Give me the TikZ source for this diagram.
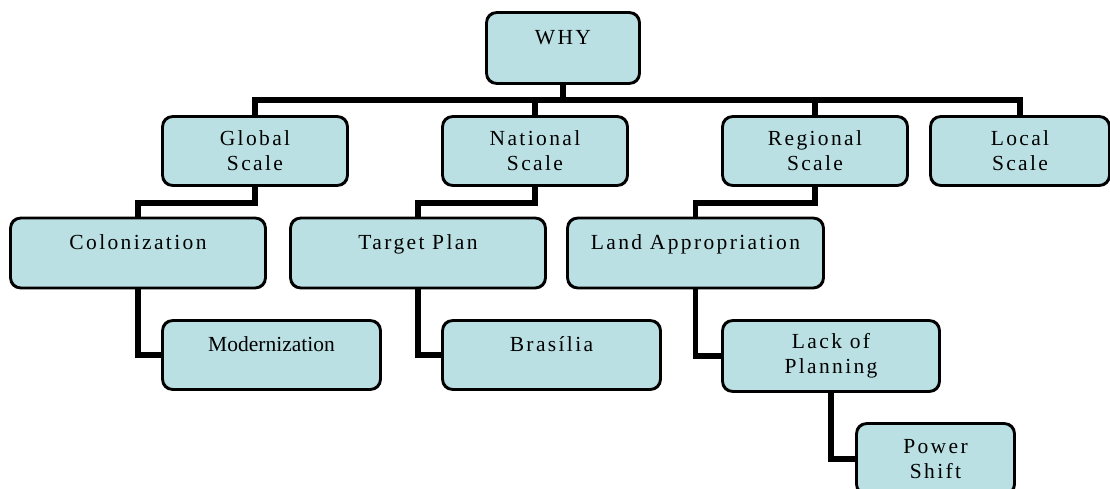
\documentclass[tikz,border=0pt]{standalone}
\usepackage{fontspec}
\setmainfont{Liberation Serif}
\newfontfamily\spfont[LetterSpace=11]{Liberation Serif}
\definecolor{boxfill}{RGB}{186,224,227}
\begin{document}
\begin{tikzpicture}[x=1pt,y=-1pt,
  box/.style={draw=black, line width=1.8pt, fill=boxfill, rounded corners=10pt,
    align=center, inner sep=0pt, font=\spfont\fontsize{21.5}{25}\selectfont},
  link/.style={draw=black, line width=5.5pt, line join=miter}]
\clip (0,0) rectangle (1110,489);
\fill[white] (0,0) rectangle (1110,489);
% nodes
\node[box, minimum width=152pt, minimum height=70pt] (why) at (563,48) {WHY\\[-4pt]\mbox{}};
\node[box, minimum width=184pt, minimum height=68pt] (global) at (255,151) {Global\\Scale};
\node[box, minimum width=184pt, minimum height=68pt] (national) at (535,151) {National\\Scale};
\node[box, minimum width=184pt, minimum height=68pt] (regional) at (815,151) {Regional\\Scale};
\node[box, minimum width=178pt, minimum height=68pt] (local) at (1020,151) {Local\\Scale};
\node[box, minimum width=254pt, minimum height=69pt] (colon) at (138,253) {Colonization\\[-4pt]\mbox{}};
\node[box, minimum width=254pt, minimum height=69pt] (target) at (418,253) {Target Plan\\[-4pt]\mbox{}};
\node[box, minimum width=255pt, minimum height=69pt] (land) at (695.5,253) {Land Appropriation\\[-4pt]\mbox{}};
\node[box, minimum width=217pt, minimum height=68pt, font=\rmfamily\fontsize{21.5}{25}\selectfont] (modern) at (271.5,355) {Modernization\\[-4pt]\mbox{}};
\node[box, minimum width=217pt, minimum height=68pt] (brasilia) at (551.5,355) {Brasília\\[-4pt]\mbox{}};
\node[box, minimum width=216pt, minimum height=70pt] (lack) at (831,356) {Lack of\\Planning};
\node[box, minimum width=157pt, minimum height=70pt] (power) at (935.5,459) {Power\\Shift};
% connectors
\begin{scope}[on background layer/.style={}]
\end{scope}
\foreach \c in {global,national,regional,local}
  \draw[link] (why.south) -- ++(0,16) -| (\c.north);
\draw[link] (global.south) -- ++(0,17) -| (colon.north);
\draw[link] (national.south) -- ++(0,17) -| (target.north);
\draw[link] (regional.south) -- ++(0,17) -| (land.north);
\draw[link] (colon.south) |- (modern.west);
\draw[link] (target.south) |- (brasilia.west);
\draw[link] (land.south) |- (lack.west);
\draw[link] (lack.south) |- (power.west);
% redraw boxes on top
\foreach \n in {why,global,national,regional,local,colon,target,land,modern,brasilia,lack,power}
  \draw[line width=1.8pt, rounded corners=10pt] (\n.north west) rectangle (\n.south east);
\end{tikzpicture}
\end{document}
